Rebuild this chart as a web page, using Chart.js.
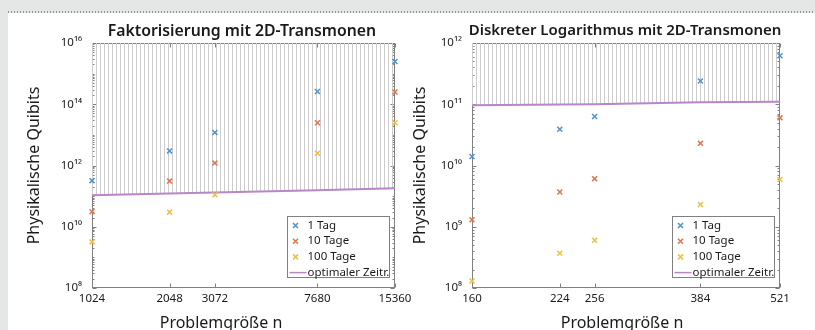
<!DOCTYPE html>
<html>
<head>
<meta charset="utf-8">
<script src="https://cdn.jsdelivr.net/npm/chart.js@4"></script>
<style>
    body { margin: 0; width: 815px; height: 330px; background: #e5e7e7; position: relative; overflow: hidden; }
    #panel { position: absolute; left: 8px; top: 13px; width: 807px; height: 317px; background: #fff; }
    #dots { position: absolute; left: 8px; top: 11px; width: 807px; height: 2px;
            background: repeating-linear-gradient(90deg, #8e9696 0 1.5px, transparent 1.5px 3px); }
    canvas { position: absolute; top: 13px; }
    #faktChart { left: 8px; }
    #dlogChart { left: 408px; }
</style>
</head>
<body>
<div id="panel"></div>
<div id="dots"></div>
<canvas id="faktChart" width="412" height="317"></canvas>
<canvas id="dlogChart" width="407" height="317"></canvas>
<script>
// Beschriftungen
const seriesNames = ['1 Tag', '10 Tage', '100 Tage', 'optimaler Zeitr.'];
const seriesColors = ['#4f93cc', '#de7550', '#ecbf48', '#b886c9'];
const yTitle = 'Physikalische Quibits';
const xTitle = 'Problemgröße n';

// Faktorisierung mit 2D-Transmonen
const faktTitle = 'Faktorisierung mit 2D-Transmonen';
const faktN = [1024, 2048, 3072, 7680, 15360];
const fakt1Tag = [3.2e11, 3e12, 1.2e13, 2.6e14, 2.5e15];
const fakt10Tage = [3.1e10, 3.1e11, 1.2e12, 2.5e13, 2.5e14];
const fakt100Tage = [3.2e9, 3e10, 1.1e11, 2.5e12, 2.5e13];
const faktOptimal = [1.07e11, 1.22e11, 1.32e11, 1.55e11, 1.8e11];
const faktYTicks = [1e8, 1e10, 1e12, 1e14, 1e16];

// Diskreter Logarithmus mit 2D-Transmonen
const dlogTitle = 'Diskreter Logarithmus mit 2D-Transmonen';
const dlogN = [160, 224, 256, 384, 521];
const dlog1Tag = [1.4e10, 3.9e10, 6.3e10, 2.4e11, 6.2e11];
const dlog10Tage = [1.3e9, 3.7e9, 6.1e9, 2.3e10, 6e10];
const dlog100Tage = [1.3e8, 3.7e8, 6e8, 2.3e9, 5.9e9];
const dlogOptimal = [9.6e10, 9.9e10, 1.0e11, 1.08e11, 1.1e11];
const dlogYTicks = [1e8, 1e9, 1e10, 1e11, 1e12];

const FONT = "'Noto Sans', sans-serif";
const SUP = { '0': '⁰', '1': '¹', '2': '²', '3': '³', '4': '⁴', '5': '⁵', '6': '⁶', '7': '⁷', '8': '⁸', '9': '⁹' };

function powLabel(v) {
    const e = Math.round(Math.log10(v));
    return '10' + String(e).split('').map(d => SUP[d]).join('');
}

// alle Teilstriche 1..9 * 10^e zwischen min und max
function logTicks(min, max) {
    const out = [];
    for (let e = Math.round(Math.log10(min)); e < Math.round(Math.log10(max)); e++) {
        for (let k = 1; k < 10; k++) out.push(k * Math.pow(10, e));
    }
    out.push(max);
    return out;
}

function hatchPattern() {
    const c = document.createElement('canvas');
    c.width = 4; c.height = 4;
    const g = c.getContext('2d');
    g.fillStyle = '#cdcdcd';
    g.fillRect(0, 0, 1, 4);
    return g.createPattern(c, 'repeat');
}

const isMajor = (v, majors) => majors.some(m => Math.abs(v / m - 1) < 1e-9);

// Rahmen, Teilstriche, Titel und Legende
const decoPlugin = {
    id: 'deco',
    beforeDatasetsDraw(chart, args, o) {
        const { ctx, chartArea: a, scales: { x, y } } = chart;
        const l = Math.round(a.left) + 0.5, r = Math.round(a.right) - 0.5;
        const t = Math.round(a.top) + 0.5, b = Math.round(a.bottom) - 0.5;
        ctx.save();
        ctx.strokeStyle = '#808080';
        ctx.lineWidth = 1;
        ctx.beginPath();
        y.ticks.forEach(tk => {
            const py = Math.round(y.getPixelForValue(tk.value)) + 0.5;
            const len = isMajor(tk.value, o.yMajor) ? 4 : 2;
            ctx.moveTo(l, py); ctx.lineTo(l + len, py);
            ctx.moveTo(r, py); ctx.lineTo(r - len, py);
        });
        x.ticks.forEach(tk => {
            const px = Math.round(x.getPixelForValue(tk.value)) + 0.5;
            ctx.moveTo(px, b); ctx.lineTo(px, b - 4);
            ctx.moveTo(px, t); ctx.lineTo(px, t + 4);
        });
        ctx.stroke();
        ctx.strokeRect(l, t, r - l, b - t);
        ctx.restore();
    },
    afterDraw(chart, args, o) {
        const { ctx, chartArea: a } = chart;
        ctx.save();
        ctx.fillStyle = '#1a1a1a';
        ctx.textAlign = 'center';
        ctx.textBaseline = 'middle';
        ctx.font = '600 ' + o.titleSize + 'px ' + FONT;
        ctx.fillText(o.title, o.titleX, o.titleY);
        ctx.font = '16px ' + FONT;
        ctx.fillText(xTitle, o.xTitleX, o.xTitleY);

        // Legende
        const w = 102, h = 61;
        const bx = Math.round(a.right - 6 - w) + 0.5, by = Math.round(a.bottom - 11 - h) + 0.5;
        ctx.fillStyle = '#fff';
        ctx.fillRect(bx, by, w, h);
        ctx.strokeStyle = '#808080';
        ctx.lineWidth = 1;
        ctx.strokeRect(bx, by, w, h);
        ctx.font = '11.5px ' + FONT;
        ctx.textAlign = 'left';
        seriesNames.forEach((name, i) => {
            const cy = by + 9 + i * 15.7;
            ctx.strokeStyle = seriesColors[i];
            ctx.lineWidth = 1.5;
            ctx.beginPath();
            if (i < 3) {
                const cx = bx + 8, s = 2.5;
                ctx.moveTo(cx - s, cy - s); ctx.lineTo(cx + s, cy + s);
                ctx.moveTo(cx - s, cy + s); ctx.lineTo(cx + s, cy - s);
            } else {
                ctx.moveTo(bx + 2, cy); ctx.lineTo(bx + 19, cy);
            }
            ctx.stroke();
            ctx.fillStyle = '#1a1a1a';
            ctx.fillText(name, bx + 20, cy);
        });
        ctx.restore();
    }
};

function makeChart(id, cfg) {
    const pts = arr => cfg.n.map((v, i) => ({ x: v, y: arr[i] }));
    const scatter = (arr, i) => ({
        type: 'scatter',
        label: seriesNames[i],
        data: pts(arr),
        borderColor: seriesColors[i],
        backgroundColor: seriesColors[i],
        pointStyle: 'crossRot',
        pointRadius: 3.5,
        borderWidth: 1.5,
        clip: false
    });

    return new Chart(document.getElementById(id).getContext('2d'), {
        data: {
            datasets: [
                scatter(cfg.s1, 0),
                scatter(cfg.s10, 1),
                scatter(cfg.s100, 2),
                {
                    type: 'line',
                    label: seriesNames[3],
                    data: pts(cfg.opt),
                    borderColor: seriesColors[3],
                    borderWidth: 2,
                    pointRadius: 0,
                    tension: 0,
                    fill: 'end',
                    backgroundColor: hatchPattern()
                }
            ]
        },
        options: {
            responsive: false,
            animation: false,
            layout: { padding: { top: 30, right: cfg.padRight, left: 0, bottom: 0 } },
            scales: {
                x: {
                    type: 'logarithmic',
                    min: cfg.n[0],
                    max: cfg.n[cfg.n.length - 1],
                    grid: { display: false, drawTicks: false },
                    border: { display: false },
                    afterBuildTicks: s => { s.ticks = cfg.n.map(v => ({ value: v })); },
                    afterFit: s => { s.height = 42; s.paddingLeft = 0; s.paddingRight = 0; },
                    ticks: {
                        autoSkip: false, maxRotation: 0, padding: 4,
                        color: '#1a1a1a', font: { family: FONT, size: 11.5 },
                        callback: v => String(v)
                    }
                },
                y: {
                    type: 'logarithmic',
                    min: cfg.yMajor[0],
                    max: cfg.yMajor[cfg.yMajor.length - 1],
                    grid: { display: false, drawTicks: false },
                    border: { display: false },
                    afterBuildTicks: s => {
                        s.ticks = logTicks(s.min, s.max).map(v => ({ value: v }));
                    },
                    afterFit: s => { s.width = cfg.yWidth; },
                    title: {
                        display: true, text: yTitle, color: '#1a1a1a',
                        font: { family: FONT, size: 16 },
                        padding: { top: cfg.yTitlePad, bottom: 0 }
                    },
                    ticks: {
                        autoSkip: false, padding: 10,
                        color: '#1a1a1a', font: { family: FONT, size: 11.5 },
                        callback: v => isMajor(v, cfg.yMajor) ? powLabel(v) : ''
                    }
                }
            },
            plugins: {
                legend: { display: false },
                tooltip: { enabled: false },
                deco: {
                    title: cfg.title, titleX: cfg.titleX, titleY: 18, titleSize: cfg.titleSize,
                    xTitleX: cfg.xTitleX, xTitleY: 310,
                    yMajor: cfg.yMajor
                }
            }
        },
        plugins: [decoPlugin]
    });
}

makeChart('faktChart', {
    n: faktN, s1: fakt1Tag, s10: fakt10Tage, s100: fakt100Tage, opt: faktOptimal,
    yMajor: faktYTicks, yWidth: 84, padRight: 25, yTitlePad: 17,
    title: faktTitle, titleX: 234, titleSize: 15.8, xTitleX: 213
});

makeChart('dlogChart', {
    n: dlogN, s1: dlog1Tag, s10: dlog10Tage, s100: dlog100Tage, opt: dlogOptimal,
    yMajor: dlogYTicks, yWidth: 64, padRight: 35, yTitlePad: 3,
    title: dlogTitle, titleX: 217, titleSize: 15, xTitleX: 214
});
</script>
</body>
</html>
